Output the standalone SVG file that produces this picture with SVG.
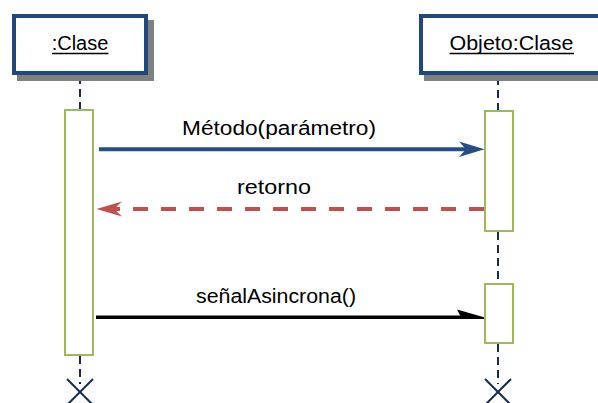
<svg xmlns="http://www.w3.org/2000/svg" width="598" height="403" viewBox="0 0 598 403">
  <style>
    .shadow { fill: #808080; }
    .box { fill: #ffffff; stroke: #1F497D; stroke-width: 4; }
    .title { font-family: "Liberation Sans", Arial, sans-serif; font-size: 20px; fill: #000000; text-anchor: middle; }
    .ul { stroke: #000000; stroke-width: 1.6; }
    .life { stroke: #1A2A48; stroke-width: 2; stroke-dasharray: 8 5; fill: none; }
    .act { fill: #ffffff; stroke: #9BBB59; stroke-width: 2; }
    .lbl { font-family: "Liberation Sans", Arial, sans-serif; font-size: 20px; fill: #000000; text-anchor: middle; }
    .x { stroke: #1A2A48; stroke-width: 2; }
  </style>
  <rect width="598" height="403" fill="#ffffff"/>

  <g id="lifelines">
    <line class="life" x1="80" y1="76" x2="80" y2="109"/>
    <line class="life" x1="80" y1="356" x2="80" y2="384"/>
    <line class="life" x1="498" y1="77" x2="498" y2="110"/>
    <line class="life" x1="498" y1="232" x2="498" y2="283"/>
    <line class="life" x1="498" y1="344" x2="498" y2="384"/>
  </g>

  <g id="node-clase">
    <rect class="shadow" x="17" y="20" width="137" height="61"/>
    <rect class="box" x="14" y="16" width="132" height="57"/>
    <text class="title" x="80" y="50">:Clase</text>
    <line class="ul" x1="52" y1="53.5" x2="108.5" y2="53.5"/>
  </g>

  <g id="node-objeto">
    <rect class="shadow" x="424" y="20" width="200" height="61"/>
    <rect class="box" x="421" y="16" width="200" height="57"/>
    <text class="title" x="511.5" y="50" textLength="124" lengthAdjust="spacingAndGlyphs">Objeto:Clase</text>
    <line class="ul" x1="449.5" y1="53.5" x2="574" y2="53.5"/>
  </g>

  <g id="activation-left">
    <rect class="act" x="65" y="110" width="28" height="245"/>
  </g>
  <g id="activation-right-1">
    <rect class="act" x="485" y="111" width="28" height="120"/>
  </g>
  <g id="activation-right-2">
    <rect class="act" x="485" y="284" width="28" height="59"/>
  </g>

  <g id="destroy-left">
    <line class="x" x1="67" y1="379" x2="93" y2="405"/>
    <line class="x" x1="93" y1="379" x2="67" y2="405"/>
  </g>
  <g id="destroy-right">
    <line class="x" x1="485" y1="379" x2="511" y2="405"/>
    <line class="x" x1="511" y1="379" x2="485" y2="405"/>
  </g>

  <g id="connectors">
    <g id="msg-metodo">
      <line x1="99" y1="149.3" x2="468" y2="149.3" stroke="#254E86" stroke-width="4"/>
      <path d="M459,141.5 L484.5,149.3 L459,157 L466,149.3 Z" fill="#254E86"/>
      <text class="lbl" x="279" y="135" textLength="194" lengthAdjust="spacingAndGlyphs">Método(parámetro)</text>
    </g>
    <g id="msg-retorno">
      <line x1="484" y1="209" x2="112" y2="209" stroke="#C0504D" stroke-width="4" stroke-dasharray="15 13"/>
      <path d="M96.5,209 L122,201.5 L114,209 L122,216.5 Z" fill="#C0504D"/>
      <text class="lbl" x="274" y="193.5" textLength="74" lengthAdjust="spacingAndGlyphs">retorno</text>
    </g>
    <g id="msg-senal">
      <line x1="96" y1="317.3" x2="472" y2="317.3" stroke="#000000" stroke-width="3.5"/>
      <path d="M457,309.5 L484,317.3 L484,319 L462,319 Z" fill="#000000"/>
      <text class="lbl" x="276" y="302.5" textLength="160" lengthAdjust="spacingAndGlyphs">señalAsincrona()</text>
    </g>
  </g>
</svg>
